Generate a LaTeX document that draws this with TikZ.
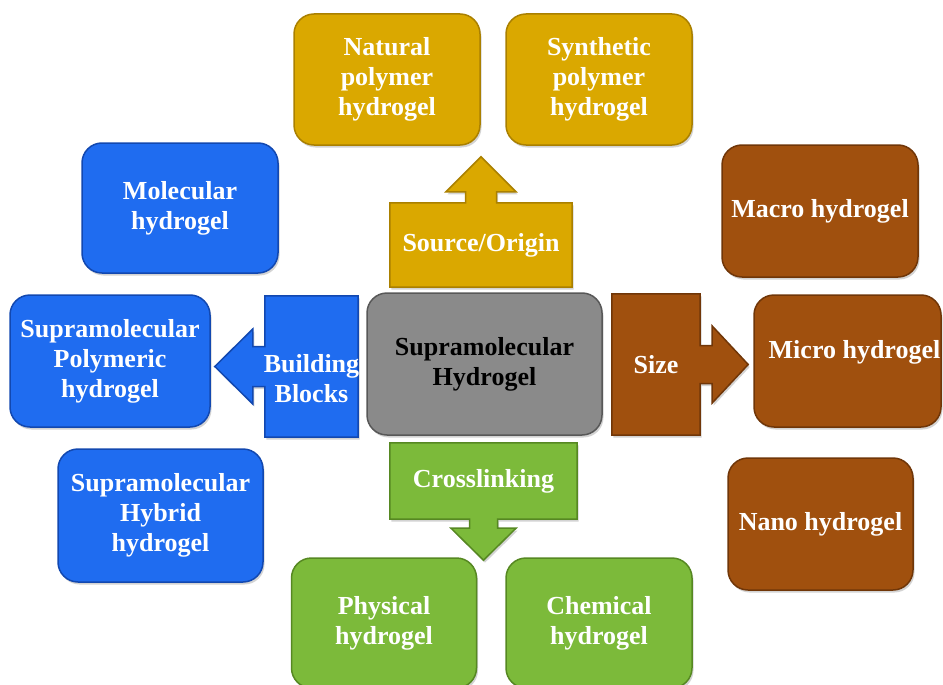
\documentclass[tikz,border=0pt]{standalone}
\usepackage{fontspec}
\setmainfont{Liberation Serif}
\usetikzlibrary{shadows,calc,backgrounds}
\definecolor{gold}{RGB}{218,168,0}
\definecolor{goldD}{RGB}{170,128,0}
\definecolor{bluec}{RGB}{31,108,240}
\definecolor{blueD}{RGB}{18,72,176}
\definecolor{brownc}{RGB}{160,80,14}
\definecolor{brownD}{RGB}{112,54,8}
\definecolor{greenc}{RGB}{124,186,58}
\definecolor{greenD}{RGB}{86,136,34}
\definecolor{grayc}{RGB}{138,138,138}
\definecolor{grayD}{RGB}{88,88,88}
\begin{document}
\begin{tikzpicture}[x=1pt,y=-1pt,
  txt/.style={font=\fontsize{26}{30}\selectfont\bfseries, align=center, text=white, inner sep=0pt},
  shad/.style={drop shadow={shadow xshift=1.5pt,shadow yshift=-2.5pt,opacity=.35}},
  box/.style={txt, shape=rectangle, rounded corners=20pt, line width=1.5pt, shad},
  goldbox/.style={box, fill=gold, draw=goldD},
  bluebox/.style={box, fill=bluec, draw=blueD},
  brownbox/.style={box, fill=brownc, draw=brownD},
  greenbox/.style={box, fill=greenc, draw=greenD},
  callout/.style={line width=1.5pt, shad, line join=miter},
]
\useasboundingbox (0,0) rectangle (943,685);

% result boxes
\node[goldbox, minimum width=186pt, minimum height=131pt] (nat) at (387,79.5) {Natural\\polymer\\hydrogel};
\node[goldbox, minimum width=186pt, minimum height=131pt] (syn) at (599,79.5) {Synthetic\\polymer\\hydrogel};
\node[bluebox, minimum width=196pt, minimum height=130pt] (mol) at (180,208) {Molecular\\hydrogel};
\node[bluebox, minimum width=200pt, minimum height=132pt] (spo) at (110,361) {Supramolecular\\Polymeric\\hydrogel};
\node[bluebox, minimum width=205pt, minimum height=133pt] (shy) at (160.5,515.5) {Supramolecular\\Hybrid\\hydrogel};
\node[brownbox, minimum width=196pt, minimum height=132pt] (mac) at (820,211) {Macro hydrogel};
\node[brownbox, minimum width=187pt, minimum height=132pt, text depth=23.5pt] (mic) at (847.5,361) {\hspace*{14pt}Micro hydrogel};
\node[brownbox, minimum width=185pt, minimum height=132pt] (nan) at (820.5,524) {Nano hydrogel};
\node[greenbox, minimum width=185pt, minimum height=130pt] (phy) at (384,623) {Physical\\hydrogel};
\node[greenbox, minimum width=186pt, minimum height=130pt] (che) at (599,623) {Chemical\\hydrogel};

% centre
\node[box, fill=grayc, draw=grayD, text=black, minimum width=235pt, minimum height=142pt] (hyd) at (484.5,364) {Supramolecular\\Hydrogel};

% callout labels
\node[txt, minimum width=182pt, minimum height=84pt] (src) at (481,245) {Source/Origin};
\node[txt, minimum width=93pt, minimum height=141pt, text height=80pt, text depth=9pt] (bb) at (311.5,366.5) {\makebox[93pt][c]{Building}\\Blocks};
\node[txt, minimum width=88pt, minimum height=141pt] (sz) at (656,364.5) {Size};
\node[txt, minimum width=187pt, minimum height=76pt] (cl) at (483.5,481) {Crosslinking};

\begin{scope}[on background layer]
\path[callout, fill=gold, draw=goldD] (src.south west) -- (src.north west)
  -- ($(src.north)+(-15.5,0)$) -- ($(src.north)+(-15.5,-11)$) -- ($(src.north)+(-35,-11)$)
  -- ($(src.north)+(0,-46)$)
  -- ($(src.north)+(35,-11)$) -- ($(src.north)+(15.5,-11)$) -- ($(src.north)+(15.5,0)$)
  -- (src.north east) -- (src.south east) -- cycle;
\path[callout, fill=bluec, draw=blueD] (bb.north east) -- (bb.north west)
  -- ($(bb.west)+(0,-20)$) -- ($(bb.west)+(-12,-20)$) -- ($(bb.west)+(-12,-37.5)$)
  -- ($(bb.west)+(-50,0)$)
  -- ($(bb.west)+(-12,37.5)$) -- ($(bb.west)+(-12,20)$) -- ($(bb.west)+(0,20)$)
  -- (bb.south west) -- (bb.south east) -- cycle;
\path[callout, fill=brownc, draw=brownD] (sz.north west) -- (sz.north east)
  -- ($(sz.east)+(0,-19)$) -- ($(sz.east)+(12,-19)$) -- ($(sz.east)+(12,-38.5)$)
  -- ($(sz.east)+(48,0)$)
  -- ($(sz.east)+(12,38.5)$) -- ($(sz.east)+(12,19)$) -- ($(sz.east)+(0,19)$)
  -- (sz.south east) -- (sz.south west) -- cycle;
\path[callout, fill=greenc, draw=greenD] (cl.north west) -- (cl.south west)
  -- ($(cl.south)+(-14,0)$) -- ($(cl.south)+(-14,9)$) -- ($(cl.south)+(-32.5,9)$)
  -- ($(cl.south)+(0,41)$)
  -- ($(cl.south)+(32.5,9)$) -- ($(cl.south)+(14,9)$) -- ($(cl.south)+(14,0)$)
  -- (cl.south east) -- (cl.north east) -- cycle;
\end{scope}
\end{tikzpicture}
\end{document}
